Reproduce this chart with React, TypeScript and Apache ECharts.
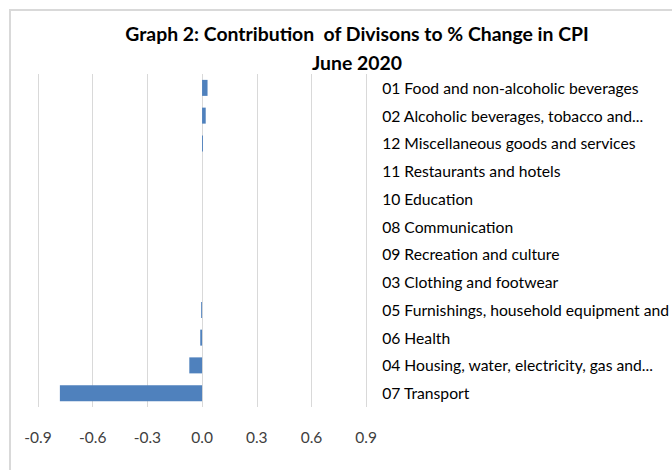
import React, { useEffect, useRef } from "react";
import * as echarts from "echarts";

const categories = [
  "01 Food and non-alcoholic beverages",
  "02 Alcoholic beverages, tobacco and...",
  "12 Miscellaneous goods and services",
  "11 Restaurants and hotels",
  "10 Education",
  "08 Communication",
  "09 Recreation and culture",
  "03 Clothing and footwear",
  "05 Furnishings, household equipment and",
  "06 Health",
  "04 Housing, water, electricity, gas and...",
  "07 Transport",
];
const contributions = [0.03, 0.02, 0.005, 0, 0, 0, 0, 0, -0.005, -0.01, -0.07, -0.78];
const titleLines = ["Graph 2: Contribution  of Divisons to % Change in CPI", "June 2020"];

const FONT = "Lato, 'Liberation Sans', sans-serif";

export default function App() {
  const ref = useRef<HTMLDivElement>(null);
  useEffect(() => {
    if (!ref.current) return;
    const chart = echarts.init(ref.current, undefined, { renderer: "svg" });
    chart.setOption({
      animation: false,
      backgroundColor: "#ffffff",
      title: {
        text: titleLines.join("\n"),
        left: 352,
        top: 14,
        textAlign: "center",
        textStyle: { fontFamily: FONT, fontSize: 19.4, fontWeight: "bold", color: "#000", lineHeight: 29 },
      },
      graphic: [
        {
          type: "polyline",
          shape: { points: [[10, 470], [10, 10], [672, 10]] },
          style: { stroke: "#d9d9d9", lineWidth: 2, fill: "none" },
          silent: true,
        },
      ],
      grid: { left: 38, right: 305, top: 74, bottom: 63, containLabel: false },
      xAxis: {
        type: "value",
        min: -0.9,
        max: 0.9,
        interval: 0.3,
        axisLine: { show: false },
        axisTick: { show: false },
        splitLine: { lineStyle: { color: "#d9d9d9", width: 1 } },
        axisLabel: {
          margin: 22,
          fontFamily: FONT,
          fontSize: 15.5,
          color: "#404040",
          formatter: (v: number) => v.toFixed(1),
        },
      },
      yAxis: {
        type: "category",
        data: categories,
        inverse: true,
        position: "right",
        axisLine: { show: false },
        axisTick: { show: false },
        splitLine: { show: false },
        axisLabel: { margin: 16, fontFamily: FONT, fontSize: 15.7, color: "#000", align: "left" },
      },
      series: [
        {
          type: "bar",
          data: contributions,
          barWidth: 16,
          itemStyle: { color: "#4f81bd" },
        },
      ],
    });
    return () => chart.dispose();
  }, []);
  return <div ref={ref} style={{ width: 672, height: 470, position: "absolute", left: 0, top: 0 }} />;
}
